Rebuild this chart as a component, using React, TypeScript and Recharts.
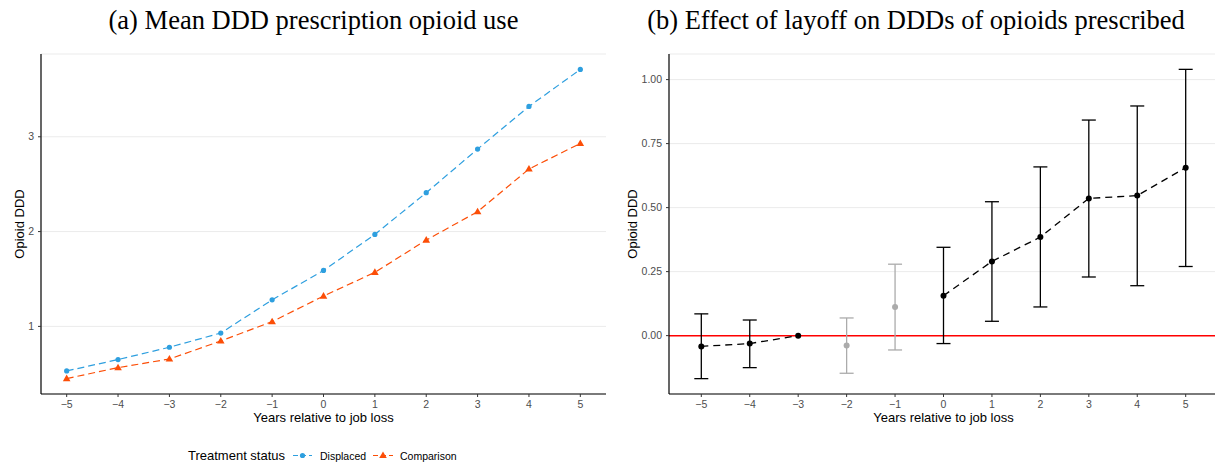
import React from 'react';
import {
  ComposedChart,
  LineChart,
  Line,
  XAxis,
  YAxis,
  CartesianGrid,
  Scatter,
  ErrorBar,
  ReferenceLine,
} from 'recharts';

// ---------- data ----------
const years = [-5, -4, -3, -2, -1, 0, 1, 2, 3, 4, 5];
const displaced = [0.53, 0.65, 0.78, 0.93, 1.28, 1.59, 1.97, 2.41, 2.87, 3.32, 3.71];
const comparison = [0.45, 0.565, 0.656, 0.846, 1.05, 1.32, 1.57, 1.91, 2.21, 2.66, 2.93];

const effect = [-0.042, -0.031, 0, -0.039, 0.112, 0.156, 0.29, 0.385, 0.536, 0.547, 0.656];
const ciLow = [-0.168, -0.125, 0, -0.147, -0.056, -0.031, 0.056, 0.112, 0.229, 0.195, 0.27];
const ciHigh = [0.085, 0.061, 0, 0.069, 0.279, 0.345, 0.523, 0.659, 0.842, 0.897, 1.04];
// 'est' = estimated, 'ref' = reference year, 'excl' = excluded (grey) years
const status = ['est', 'est', 'ref', 'excl', 'excl', 'est', 'est', 'est', 'est', 'est', 'est'];

const leftTicks = [1, 2, 3];
const rightTicks = [0, 0.25, 0.5, 0.75, 1.0];

const titleA = '(a) Mean DDD prescription opioid use';
const titleB = '(b) Effect of layoff on DDDs of opioids prescribed';
const xTitle = 'Years relative to job loss';
const yTitle = 'Opioid DDD';
const legendTitle = 'Treatment status';
const seriesNames = ['Displaced', 'Comparison'];

// ---------- tables ----------
const leftData = years.map((y, i) => ({ year: y, displaced: displaced[i], comparison: comparison[i] }));
const lineData = years.map((y, i) => ({ year: y, effect: status[i] === 'excl' ? null : effect[i] }));
const toPt = (i: number) => ({
  year: years[i],
  effect: effect[i],
  err: [effect[i] - ciLow[i], ciHigh[i] - effect[i]],
});
const blackPts = years.map((_, i) => i).filter((i) => status[i] === 'est').map(toPt);
const greyPts = years.map((_, i) => i).filter((i) => status[i] === 'excl').map(toPt);
const refPts = years.map((_, i) => i).filter((i) => status[i] === 'ref').map(toPt);

// ---------- styles ----------
const BLUE = '#2E9FDF';
const ORANGE = '#FC4E07';
const GREY = '#ABABAB';
const SANS = '"Liberation Sans", Arial, Helvetica, sans-serif';
const SERIF = '"Liberation Serif", "Times New Roman", Times, serif';
const tickStyle = { fontSize: 10.5, fill: '#4d4d4d', fontFamily: SANS };
const axisLine = { stroke: '#000', strokeWidth: 1.2 };
const tickLine = { stroke: '#333', strokeWidth: 1 };
const fmtX = (v: number) => (v < 0 ? '\u2212' + Math.abs(v) : String(v));

const Triangle = (props: any) => {
  const { cx, cy } = props;
  if (cx == null || cy == null) return null;
  return <path d={`M${cx},${cy - 4} L${cx + 3.8},${cy + 2.6} L${cx - 3.8},${cy + 2.6} Z`} fill={ORANGE} />;
};

const dotShape = (color: string, r: number) => (props: any) => {
  const cx = props.cx ?? props.x + (props.width || 0) / 2;
  const cy = props.cy ?? props.y + (props.height || 0) / 2;
  return <circle cx={cx} cy={cy} r={r} fill={color} />;
};

export default function App() {
  return (
    <div
      style={{
        position: 'absolute',
        left: 0,
        top: 0,
        width: 1215,
        height: 466,
        overflow: 'hidden',
        background: '#fff',
      }}
    >
      <div style={{ position: 'absolute', left: 0, top: 0 }}>
        <LineChart width={620} height={466} data={leftData} margin={{ top: 54, right: 14, bottom: 42, left: 0 }}>
          <CartesianGrid vertical={false} stroke="#ebebeb" strokeWidth={1} />
          <XAxis
            dataKey="year"
            type="number"
            domain={[-5.5, 5.5]}
            allowDataOverflow
            ticks={years}
            tickFormatter={fmtX}
            height={30}
            axisLine={axisLine}
            tickLine={tickLine}
            tickSize={3}
            tickMargin={4}
            tick={tickStyle}
            interval={0}
            label={{ value: xTitle, position: 'insideBottom', offset: 2, fontSize: 13, fill: '#000', fontFamily: SANS }}
          />
          <YAxis
            type="number"
            domain={[0.287, 3.873]}
            allowDataOverflow
            ticks={leftTicks}
            width={41}
            axisLine={axisLine}
            tickLine={tickLine}
            tickSize={3}
            tickMargin={4}
            tick={tickStyle}
            interval={0}
            label={{
              value: yTitle,
              angle: -90,
              position: 'insideLeft',
              offset: 19,
              style: { textAnchor: 'middle' },
              fontSize: 13,
              fill: '#000',
              fontFamily: SANS,
            }}
          />
          <Line
            dataKey="displaced"
            stroke={BLUE}
            strokeWidth={1.2}
            strokeDasharray="7 4"
            dot={{ r: 2.6, fill: BLUE, stroke: 'none' }}
            isAnimationActive={false}
          />
          <Line
            dataKey="comparison"
            stroke={ORANGE}
            strokeWidth={1.2}
            strokeDasharray="7 4"
            dot={<Triangle />}
            isAnimationActive={false}
          />
        </LineChart>
      </div>

      <div style={{ position: 'absolute', left: 610, top: 0 }}>
        <ComposedChart width={620} height={466} margin={{ top: 54, right: 12, bottom: 42, left: 0 }}>
          <CartesianGrid vertical={false} stroke="#ebebeb" strokeWidth={1} />
          <XAxis
            dataKey="year"
            type="number"
            domain={[-5.667, 5.667]}
            allowDataOverflow
            ticks={years}
            tickFormatter={fmtX}
            height={30}
            axisLine={axisLine}
            tickLine={tickLine}
            tickSize={3}
            tickMargin={4}
            tick={tickStyle}
            interval={0}
            label={{ value: xTitle, position: 'insideBottom', offset: 2, fontSize: 13, fill: '#000', fontFamily: SANS }}
          />
          <YAxis
            type="number"
            domain={[-0.228, 1.1]}
            allowDataOverflow
            ticks={rightTicks}
            tickFormatter={(v: number) => v.toFixed(2)}
            width={59}
            axisLine={axisLine}
            tickLine={tickLine}
            tickSize={3}
            tickMargin={4}
            tick={tickStyle}
            interval={0}
            label={{
              value: yTitle,
              angle: -90,
              position: 'insideLeft',
              offset: 22,
              style: { textAnchor: 'middle' },
              fontSize: 13,
              fill: '#000',
              fontFamily: SANS,
            }}
          />
          <ReferenceLine y={0} stroke="#FF0000" strokeWidth={1.5} />
          <Line
            data={lineData}
            dataKey="effect"
            stroke="#000"
            strokeWidth={1.3}
            strokeDasharray="7 5"
            dot={false}
            connectNulls={false}
            isAnimationActive={false}
          />
          <Scatter data={greyPts} dataKey="effect" fill={GREY} shape={dotShape(GREY, 3)} isAnimationActive={false}>
            <ErrorBar dataKey="err" direction="y" width={7} stroke={GREY} strokeWidth={1.3} />
          </Scatter>
          <Scatter data={blackPts} dataKey="effect" fill="#000" shape={dotShape('#000', 3)} isAnimationActive={false}>
            <ErrorBar dataKey="err" direction="y" width={7} stroke="#000" strokeWidth={1.3} />
          </Scatter>
          <Scatter data={refPts} dataKey="effect" fill="#000" shape={dotShape('#000', 3)} isAnimationActive={false} />
        </ComposedChart>
      </div>

      <svg
        width={1215}
        height={466}
        style={{ position: 'absolute', left: 0, top: 0, pointerEvents: 'none' }}
      >
        <text x={313.5} y={28.5} textAnchor="middle" fontFamily={SERIF} fontSize={26.5} fill="#000">
          {titleA}
        </text>
        <text x={916} y={28.5} textAnchor="middle" fontFamily={SERIF} fontSize={26.5} fill="#000">
          {titleB}
        </text>
        <g fontFamily={SANS}>
          <text x={188} y={460} fontSize={13} fill="#000">
            {legendTitle}
          </text>
          <line x1={293} x2={312} y1={455.5} y2={455.5} stroke={BLUE} strokeWidth={1.2} strokeDasharray="5 3" />
          <circle cx={302.5} cy={455.5} r={2.6} fill={BLUE} />
          <text x={320} y={459.5} fontSize={10.5} fill="#000">
            {seriesNames[0]}
          </text>
          <line x1={373} x2={393} y1={455.5} y2={455.5} stroke={ORANGE} strokeWidth={1.2} strokeDasharray="5 3" />
          <path d="M383,451.5 L386.8,458.1 L379.2,458.1 Z" fill={ORANGE} />
          <text x={400} y={459.5} fontSize={10.5} fill="#000">
            {seriesNames[1]}
          </text>
        </g>
      </svg>
    </div>
  );
}
